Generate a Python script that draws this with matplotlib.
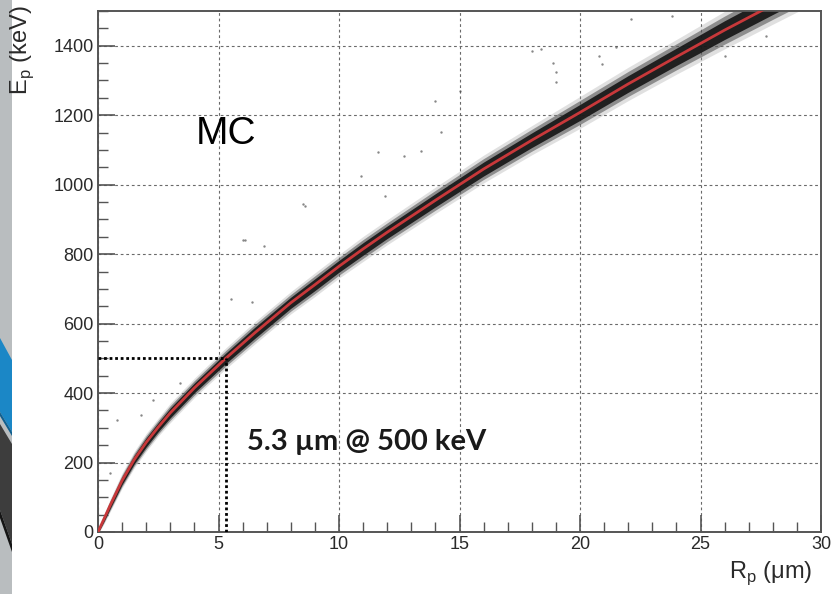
import matplotlib
matplotlib.use("Agg")
import matplotlib.pyplot as plt
from matplotlib.patches import Polygon, Rectangle
from matplotlib.ticker import MultipleLocator

# Fitted range-energy curve (projected range in um vs proton energy in keV)
range_um = [0, 0.25, 0.5, 1.0, 1.5, 2.0, 2.5, 3.0, 4.0, 5.3, 6.5, 8.0, 9.0, 10, 11,
            12, 14, 16, 18, 20, 22, 24, 26, 28, 30]
energy_kev = [0, 38, 76, 148, 208, 258, 302, 343, 415, 500, 573, 660, 712, 765,
              815, 863, 955, 1045, 1128, 1208, 1290, 1368, 1445, 1518, 1590]
# Vertical half-spread of the dense MC cloud around the curve (keV)
spread_kev = [3, 7, 9, 11, 12, 13, 13, 14, 14, 15, 16, 16, 17, 17, 18, 18, 19, 20,
              21, 23, 24, 25, 27, 28, 29]

# Sparse MC events away from the main band
out_r = [0.5, 0.8, 1.8, 2.3, 3.4, 5.5, 6.0, 6.1, 6.4, 6.9, 8.5, 8.6, 10.9, 11.6,
         11.9, 12.7, 13.4, 14.0, 14.25, 15.0, 18.0, 18.4, 18.9, 19.0, 19.0, 20.8,
         20.9, 21.5, 22.1, 23.8, 26.0, 27.7]
out_e = [170, 323, 337, 381, 430, 672, 842, 842, 663, 822, 943, 940, 1024, 1093,
         966, 1082, 1096, 1240, 1151, 1269, 1384, 1390, 1350, 1324, 1295, 1370,
         1347, 1396, 1477, 1485, 1370, 1428]

ref_range = 5.3
ref_energy = 500

x_ticks = [0, 5, 10, 15, 20, 25, 30]
y_ticks = [0, 200, 400, 600, 800, 1000, 1200, 1400]

W, H = 834, 594
fig = plt.figure(figsize=(W / 100, H / 100), dpi=100)
fig.patch.set_facecolor("white")

# Slide decoration on the left edge
fig.patches.append(Rectangle((0, 0), 12 / W, 1, transform=fig.transFigure,
                             facecolor="#b9bdbf", edgecolor="none", zorder=0))
def fpoly(pts, color):
    p = Polygon([(x / W, 1 - y / H) for x, y in pts], closed=True,
                transform=fig.transFigure, facecolor=color, edgecolor="none", zorder=1)
    fig.patches.append(p)
fpoly([(0, 338), (12, 360), (12, 432), (0, 412)], "#1b87c6")
fpoly([(0, 412), (12, 432), (12, 436), (0, 416)], "#0f5f8f")
fpoly([(0, 424), (12, 444), (12, 544), (0, 510)], "#3d3d3d")
fpoly([(0, 510), (12, 544), (12, 552), (0, 518)], "#151515")

ax = fig.add_axes([98 / W, 1 - 532 / H, (821 - 98) / W, (532 - 11) / H])
ax.set_xlim(0, 30)
ax.set_ylim(0, 1500)

# Grid
ax.set_axisbelow(True)
ax.grid(True, which="major", color="#6a6a6a", linestyle=(0, (2.5, 2.5)), linewidth=0.8)

# Dense MC cloud as layered bands around the curve
for scale, col, alpha in [(2.0, "#9a9a9a", 0.3), (1.5, "#4a4a4a", 0.55), (1.0, "#141414", 0.9)]:
    lo = [e - scale * s for e, s in zip(energy_kev, spread_kev)]
    hi = [e + scale * s for e, s in zip(energy_kev, spread_kev)]
    ax.fill_between(range_um, lo, hi, color=col, alpha=alpha, linewidth=0, zorder=2)

ax.scatter(out_r, out_e, s=3, color="#555555", alpha=0.7, linewidths=0, zorder=2)

# Fit curve
ax.plot(range_um, energy_kev, color="#c8383a", linewidth=2.0, zorder=3,
        solid_capstyle="round")

# Reference lines at 500 keV
ax.plot([0, ref_range], [ref_energy, ref_energy], color="black", linewidth=2,
        linestyle=(0, (1, 1)), zorder=4)
ax.plot([ref_range, ref_range], [0, ref_energy], color="black", linewidth=2,
        linestyle=(0, (1, 1)), zorder=4)

ax.text(4.05, 1116, "MC", fontsize=28, family="Liberation Sans", color="black", zorder=5)
ax.text(6.2, 236, "5.3 \u00b5m @ 500 keV", fontsize=21, family="Lato",
        fontweight="bold", color="#1a1a1a", zorder=5)

# Axes styling
ax.set_xticks(x_ticks)
ax.set_yticks(y_ticks)
ax.xaxis.set_minor_locator(MultipleLocator(1))
ax.yaxis.set_minor_locator(MultipleLocator(50))
ax.tick_params(which="major", direction="in", length=12, width=1.2, color="#555555",
               labelsize=13, labelcolor="#2a2a2a", pad=3)
ax.tick_params(which="minor", direction="in", length=7, width=1.0, color="#555555")
ax.tick_params(axis="both", top=False, right=False, which="both")
for lab in ax.get_xticklabels() + ax.get_yticklabels():
    lab.set_family("Liberation Sans")
for sp in ax.spines.values():
    sp.set_color("#555555")
    sp.set_linewidth(1.4)

fig.text(812 / W, 1 - 573 / H, r"R$_{\mathregular{p}}$ ($\mathregular{\mu}$m)",
         ha="right", va="center", fontsize=17, family="Liberation Sans", color="#2a2a2a")
fig.text(22 / W, 1 - 5 / H, r"E$_{\mathregular{p}}$ (keV)", rotation=90,
         ha="center", va="top", fontsize=17, family="Liberation Sans", color="#2a2a2a")

fig.savefig("out.png", dpi=100)
